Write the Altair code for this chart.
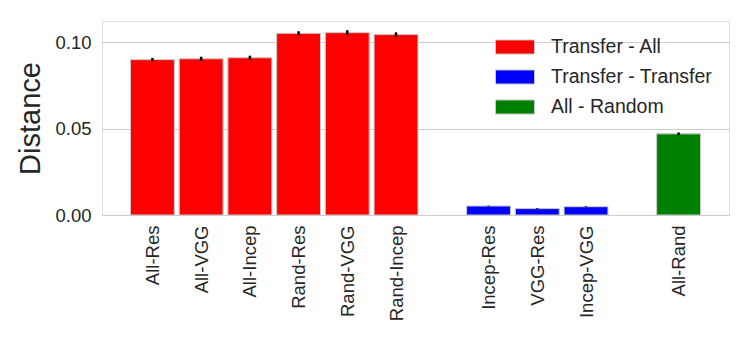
import altair as alt
import pandas as pd

labels = ["All-Res", "All-VGG", "All-Incep", "Rand-Res", "Rand-VGG", "Rand-Incep",
          "Incep-Res", "VGG-Res", "Incep-VGG", "All-Rand"]
groups = ["Transfer - All"] * 6 + ["Transfer - Transfer"] * 3 + ["All - Random"]
values = [0.0898, 0.0903, 0.0909, 0.1050, 0.1054, 0.1043, 0.0052, 0.0037, 0.0048, 0.0469]
errors = [0.0010, 0.0012, 0.0012, 0.0012, 0.0014, 0.0013, 0.0002, 0.0002, 0.0002, 0.0008]
group_order = ["Transfer - All", "Transfer - Transfer", "All - Random"]
colors = ["#ff0000", "#0000ff", "#008000"]
y_ticks = [0.0, 0.05, 0.10]

BAR_W = 0.9
positions = [i + group_order.index(g) * BAR_W for i, g in enumerate(groups)]

df = pd.DataFrame(dict(label=labels, group=groups, value=values, err=errors, pos=positions))
df["x0"] = df["pos"] - BAR_W / 2
df["x1"] = df["pos"] + BAR_W / 2
df["lo"] = df["value"] - df["err"]
df["hi"] = df["value"] + df["err"]
df["zero"] = 0.0

xr = df["x1"].max() - df["x0"].min()
xdom = [df["x0"].min() - 0.05 * xr, df["x1"].max() + 0.05 * xr]
ydom = [0, df["hi"].max() * 1.05]

expr = " : ".join(f"abs(datum.value - {p}) < 0.01 ? '{l}'" for p, l in zip(positions, labels)) + " : ''"

TXT = "#262626"
FONT = "Liberation Sans"

base = alt.Chart(df)
bars = base.mark_rect(stroke="#c8c8c8", strokeWidth=1).encode(
    x=alt.X("x0:Q", scale=alt.Scale(domain=xdom, nice=False, zero=False),
            axis=alt.Axis(values=positions, labelExpr=expr, labelAngle=270, ticks=False,
                          grid=False, domain=False, labelFontSize=18.5, labelColor=TXT,
                          labelPadding=10, title=None, labelFont=FONT)),
    x2="x1:Q",
    y=alt.Y("value:Q", scale=alt.Scale(domain=ydom, nice=False),
            axis=alt.Axis(values=y_ticks, format=".2f", ticks=False, domain=False,
                          labelFontSize=18.5, labelColor=TXT, labelPadding=11,
                          gridColor="#cccccc", gridWidth=1, title="Distance",
                          titleFontSize=29, titleFontWeight="normal", titleColor=TXT,
                          titlePadding=9, labelFont=FONT, titleFont=FONT)),
    y2="zero:Q",
    color=alt.Color("group:N", scale=alt.Scale(domain=group_order, range=colors),
                    legend=alt.Legend(title=None, orient="none", legendX=393, legendY=6,
                                      symbolType="M-1,-0.36L1,-0.36L1,0.36L-1,0.36Z",
                                      symbolSize=1521, symbolStrokeColor="#c8c8c8",
                                      symbolStrokeWidth=1, symbolOpacity=1,
                                      labelFontSize=19.5, labelColor=TXT, labelFont=FONT,
                                      labelLimit=400, labelOffset=16, rowPadding=-3)),
)
errs = base.mark_rule(color="black", strokeWidth=2.5).encode(
    x="pos:Q", y="lo:Q", y2="hi:Q"
)

chart = (bars + errs).properties(
    width=627, height=194,
    autosize=alt.AutoSizeParams(type="none"),
    padding={"left": 94, "top": 13, "right": 13, "bottom": 123},
).configure_view(stroke="#cccccc", strokeWidth=1).configure(font=FONT)

chart.save("out.html", embed_options={"renderer": "svg", "actions": False})
